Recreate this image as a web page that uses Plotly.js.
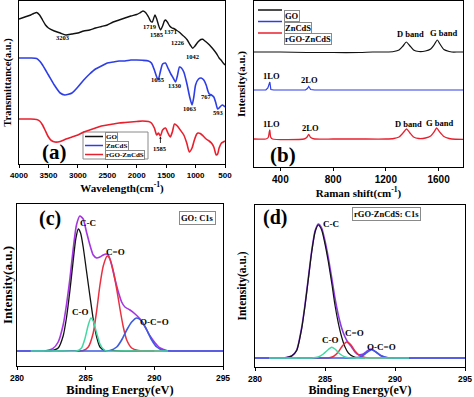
<!DOCTYPE html>
<html><head><meta charset="utf-8">
<script src="https://cdn.plot.ly/plotly-3.0.1.min.js"></script>
<style>html,body{margin:0;padding:0;background:#fff}#chart{width:474px;height:397px}</style>
</head><body><div id="chart"></div>
<script>
// ---------- (a) FTIR ----------
const ftirGO_x = [4000,3900,3800,3750,3700,3650,3600,3550,3500,3400,3300,3203,3100,3000,2900,2800,2700,2600,2500,2400,2300,2200,2100,2000,1950,1894,1850,1800,1760,1735,1710,1690,1660,1625,1594,1560,1530,1510,1480,1440,1400,1371,1330,1280,1226,1190,1140,1090,1048,1010,960,910,878,840,790,737,690,640,600,568,530,500];
const ftirGO_y = [145,147,149,150.5,151.5,149,144,139,136,133,131,129,130,131,133,134,136,137.5,139,142,144,146,148,149.5,151,153,151.5,147,142.5,142,146,149,145,138,134,138,143,144,142,138,136,135.5,134,132,129,127.3,124,119,115.7,118,122,124.5,124.7,123,120.5,117.3,114,110,106,104,101,99];
const ftirZn_x = [4000,3900,3800,3700,3650,3600,3500,3400,3300,3221,3100,3000,2900,2800,2700,2600,2500,2400,2300,2200,2100,2000,1900,1800,1750,1700,1660,1635,1600,1560,1511,1470,1420,1380,1340,1310,1273,1240,1200,1150,1100,1060,1030,1000,950,905,860,820,790,767,730,690,660,625,600,570,540,500];
const ftirZn_y = [106,106,106,105.5,103,99,89,79,71,69,71,77,84,90,95,98,101,102,103,103,104,104,103.7,103,101,94,87,84,92,100,101,96,90,86,82,88,97,96,92,81,67,59,67,79,85,86,84,79,73,70,69,67,62,55,56,58,59,57];
const ftirRG_x = [4000,3900,3800,3700,3650,3600,3550,3500,3450,3390,3300,3200,3100,3000,2900,2800,2700,2600,2500,2400,2300,2200,2100,2000,1900,1800,1750,1700,1660,1630,1597,1560,1510,1470,1430,1395,1358,1310,1260,1200,1150,1106,1060,1020,980,960,920,870,820,770,730,690,650,625,600,560,530,500];
const ftirRG_y = [45,45,45,44.5,43,39,33,27,23.5,22,22.5,25,27,29,32,34,36,38,39,40,41,41.5,42,42.5,43,42.5,41,36,29,31,28,34,36,31,27,32,40,38,34,29,21,12,16,24,30,31,30.5,28,25,23,21,17,9,10,16,21,22,23];
const ftirPeakLabels = ['3203','1719','1585','1371','1226','1042','1635','1330','1063','767','593'];
const ftirPeakX = [3250,1774,1655,1434,1298,1044,1638,1366,1095,806,619];
const ftirPeakY = [126,137,129,132,121,107,84,78,55,67,51];

// ---------- (b) Raman ----------
const ramGO_x = [200,400,600,800,1000,1100,1200,1260,1300,1330,1355,1380,1410,1450,1500,1540,1565,1590,1610,1640,1680,1700,1750,1800];
const ramGO_y = [115,115,114.5,114.5,114.5,115,115,115.5,117,121,125,121.5,117,115.5,116,118,122,127,123,117.5,115.5,115,115,115];
const ramZn_x = [200,290,305,315,320,328,350,590,605,615,630,660,800,1000,1200,1400,1600,1800];
const ramZn_y = [77,77,79,84,85,77.5,77,77,78.5,80.5,77.5,77,77,77,77,77,77,77];
const ramRG_x = [200,290,308,316,320,326,340,580,600,615,630,660,800,1000,1200,1260,1300,1330,1357,1380,1410,1450,1500,1540,1565,1585,1605,1640,1680,1700,1800];
const ramRG_y = [28,28,29.5,35,37,30,28,28,29.5,32.5,29.5,28,28,28,28,28.5,30,34,38,34.5,30,28.5,29,31,35,39,35.5,30.5,28.5,28,27.5];
const ramLabels = ['D band','G band','1LO','2LO','1LO','2LO','D band','G band'];
const ramLabX = [1385,1635,330,620,330,625,1370,1610];
const ramLabY = [133,134,91,87,43,39,43,44];

// ---------- (c) XPS GO C1s ----------
const goEnv_x = [280,281.2,282.1,282.6,283.0,283.36,283.6,283.85,284.09,284.33,284.58,284.82,285.06,285.31,285.55,285.8,286.04,286.28,286.48,286.65,286.89,287.13,287.38,287.62,287.86,288.23,288.6,288.96,289.33,289.69,290.06,290.42,290.9,291.4,293,295];
const goEnv_y = [0,0,0.3,2.3,9,26,46,72,102,126,135,132,119,106,96,93,94,96,97,96,86,72,59,49,44,41,37,32,24,15,8,3,0.5,0,0,0];
const goCC_x = [282.0,282.39,283.0,283.36,283.6,283.85,284.09,284.28,284.46,284.63,284.82,285.06,285.31,285.55,285.8,286.04,286.4,287,290];
const goCC_y = [0,0,3,15,33,60,90,112,122,118,104,80,55,32,14,4,0.5,0,0];
const goCeqO_x = [283,284.3,284.82,285.19,285.55,285.8,286.04,286.28,286.57,286.77,287.01,287.26,287.5,287.74,287.99,288.35,288.84,289.2,291];
const goCeqO_y = [0,0,0.5,4,18,40,66,85,95,92,80,62,42,24,11,3,0.5,0,0];
const goCO_x = [281,283,284.33,284.7,284.94,285.19,285.38,285.55,285.8,286.04,286.28,286.53,288,291];
const goCO_y = [0,0,0,3,12,26,33,30,18,7,2,0,0,0];
const goOCO_x = [280,283,286,286.77,287.26,287.62,287.99,288.35,288.72,289.08,289.45,289.81,290.18,290.66,292,295];
const goOCO_y = [0,0,0,0.5,4,11,21,29,33,30,21,11,4,0.5,0,0];

// ---------- (d) XPS rGO-ZnCdS C1s ----------
const rgEnv_x = [280,282.14,282.62,282.98,283.33,283.57,283.81,284.05,284.29,284.52,284.76,285.0,285.24,285.48,285.71,285.95,286.19,286.43,286.67,286.9,287.14,287.38,287.74,287.98,288.29,288.57,288.93,289.29,289.76,292,295];
const rgEnv_y = [0,0.3,2,8,30,53,80,107,127,134,130,117,100,80,60,43,30,21,15,11,6,3.3,4,6.7,9,6.7,2.7,0.7,0,0,0];
const rgCC_x = [282.14,282.62,282.98,283.33,283.57,283.81,284.05,284.29,284.52,284.76,285.0,285.24,285.48,285.71,285.95,286.19,286.43,286.67,287.02,287.38,287.86];
const rgCC_y = [0,2,7.5,29,52,79,106,126,133,128,114,96,75,53,35,21,11,5,1.5,0.3,0];
const rgCO_x = [281,283,284.05,284.52,284.88,285.24,285.48,285.71,286.07,286.43,286.79,288,291];
const rgCO_y = [0,0,0,1,4,8.5,10.7,9,4,1,0,0,0];
const rgCeqO_x = [283,284.5,285.24,285.6,285.95,286.24,286.55,286.86,287.14,287.43,287.86,288.21,290];
const rgCeqO_y = [0,0,0,1.5,6,12,16,13,7,3,0.5,0,0];
const rgOCO_x = [280,284,286,287.14,287.5,287.86,288.33,288.69,289.05,289.4,289.76,292,295];
const rgOCO_y = [0,0,0,0,1,4,8.3,5.5,2,0.5,0,0,0];
const xpsLabels = ['C-C','C=O','C-O','O-C=O'];
const goLabX = [285.15,287.15,284.65,290.0];
const goLabY = [128,99,39,29];
const rgLabX = [285.45,287.1,285.4,289.0];
const rgLabY = [134,25,18,11];

const series = ['GO','ZnCdS','rGO-ZnCdS'];
const cBlack = '#111111', cBlue = '#2d3ee6', cRed = '#e8202e';
const cPurple = '#a535e2', cPurple2 = '#8a3ae6', cGreen = '#43d8a2', cCompBlue = '#3d5be0', cCompRed = '#ea3040';

const serif = 'Liberation Serif, Times New Roman, serif';
const sans = 'Liberation Sans, Arial, sans-serif';

function ln(x, y, color, xa, ya, name, w, shape) {
  return {x: x, y: y, type: 'scatter', mode: 'lines', name: name, showlegend: false,
    xaxis: xa, yaxis: ya, line: {color: color, width: w || 1.4, shape: shape || 'spline', smoothing: 0.6}};
}

const data = [
  ln(ftirGO_x, ftirGO_y, cBlack, 'x', 'y', series[0], 1.4),
  ln(ftirZn_x, ftirZn_y, cBlue, 'x', 'y', series[1], 1.6),
  ln(ftirRG_x, ftirRG_y, cRed, 'x', 'y', series[2], 1.6),
  ln(ramGO_x, ramGO_y, cBlack, 'x2', 'y2', series[0], 1.2),
  ln(ramZn_x, ramZn_y, cBlue, 'x2', 'y2', series[1], 1.2, 'linear'),
  ln(ramRG_x, ramRG_y, cRed, 'x2', 'y2', series[2], 1.3),
  ln(goEnv_x, goEnv_y, cPurple, 'x3', 'y3', 'Envelope', 1.6),
  ln(goCC_x, goCC_y, cBlack, 'x3', 'y3', 'C-C', 1.3),
  ln(goCeqO_x, goCeqO_y, cCompRed, 'x3', 'y3', 'C=O', 1.5),
  ln(goOCO_x, goOCO_y, cCompBlue, 'x3', 'y3', 'O-C=O', 1.6),
  ln(goCO_x, goCO_y, cGreen, 'x3', 'y3', 'C-O', 1.5),
  ln(rgEnv_x, rgEnv_y, cPurple2, 'x4', 'y4', 'Envelope', 1.6),
  ln(rgCC_x, rgCC_y, cBlack, 'x4', 'y4', 'C-C', 1.2),
  ln(rgCeqO_x, rgCeqO_y, cCompRed, 'x4', 'y4', 'C=O', 1.5),
  ln(rgOCO_x, rgOCO_y, cCompBlue, 'x4', 'y4', 'O-C=O', 1.6),
  ln(rgCO_x, rgCO_y, cGreen, 'x4', 'y4', 'C-O', 1.5)
];

function px(v){return v/474;}
function py(v){return 1 - v/397;}

function xax(dom, anchor, range, dtick, tsize, title, tfs, standoff, tickvals) {
  const a = {domain: dom, anchor: anchor, range: range, showgrid: false, zeroline: false,
    showline: true, linecolor: '#000', linewidth: 1.4, mirror: true,
    ticks: 'outside', ticklen: 3, tickwidth: 1, tickcolor: '#000',
    tickfont: {family: sans, size: tsize, color: '#000', weight: 'bold'},
    title: {text: title, font: {family: serif, size: tfs, color: '#000', weight: 'bold'}, standoff: standoff}};
  if (tickvals) { a.tickmode = 'array'; a.tickvals = tickvals; } else { a.dtick = dtick; a.tick0 = 0; }
  return a;
}
function yax(dom, anchor, range, title, tfs, standoff) {
  return {domain: dom, anchor: anchor, range: range, showgrid: false, zeroline: false,
    showline: true, linecolor: '#000', linewidth: 1.4, mirror: true, ticks: '', showticklabels: false,
    title: {text: title, font: {family: serif, size: tfs, color: '#000', weight: 'bold'}, standoff: standoff}};
}

const ann = [];
function txt(x, y, t, xr, yr, size, extra) {
  ann.push(Object.assign({x: x, y: y, xref: xr, yref: yr, text: t, showarrow: false,
    font: {family: serif, size: size, color: '#000', weight: 'bold'}}, extra || {}));
}
for (let i = 0; i < ftirPeakLabels.length; i++) txt(ftirPeakX[i], ftirPeakY[i], ftirPeakLabels[i], 'x', 'y', 6.5);
ann.push({x: 1597, y: 27, xref: 'x', yref: 'y', text: '1585', showarrow: true, ax: 0, ay: 11,
  arrowhead: 1, arrowsize: 0.6, arrowwidth: 0.8, arrowcolor: '#000', standoff: 0,
  font: {family: serif, size: 6.5, color: '#000', weight: 'bold'}});
for (let i = 0; i < ramLabels.length; i++) txt(ramLabX[i], ramLabY[i], ramLabels[i], 'x2', 'y2', 8.5);
for (let i = 0; i < xpsLabels.length; i++) txt(goLabX[i], goLabY[i], xpsLabels[i], 'x3', 'y3', 9);
for (let i = 0; i < xpsLabels.length; i++) txt(rgLabX[i], rgLabY[i], xpsLabels[i], 'x4', 'y4', 9);
txt(px(40), py(152), '(a)', 'paper', 'paper', 21);
txt(px(283), py(155), '(b)', 'paper', 'paper', 21);
txt(px(37), py(218), '(c)', 'paper', 'paper', 20);
txt(px(275), py(217), '(d)', 'paper', 'paper', 20);
const boxStyle = {bordercolor: '#8a8a8a', borderwidth: 1, borderpad: 1, bgcolor: '#fff'};
txt(px(197), py(218), 'GO: C1s', 'paper', 'paper', 8.5, boxStyle);
txt(px(421), py(214), 'rGO-ZnCdS: C1s', 'paper', 'paper', 8.5, boxStyle);

// manual legends
const shapes = [];
shapes.push({type: 'rect', xref: 'paper', yref: 'paper', x0: px(83), x1: px(148), y0: py(159), y1: py(132),
  line: {color: '#8a8a8a', width: 1}, fillcolor: '#fff', layer: 'below'});
const legColors = [cBlack, cBlue, cRed];
const legA_y = [136.5, 145.5, 154.5];
const legB_y = [10, 21.5, 33];
for (let i = 0; i < 3; i++) {
  shapes.push({type: 'line', xref: 'paper', yref: 'paper', x0: px(85), x1: px(103), y0: py(legA_y[i]), y1: py(legA_y[i]),
    line: {color: legColors[i], width: 1.5}});
  txt(px(105), py(legA_y[i]), series[i], 'paper', 'paper', 7, Object.assign({xanchor: 'left'}, boxStyle, {borderpad: 0}));
  shapes.push({type: 'line', xref: 'paper', yref: 'paper', x0: px(258), x1: px(282), y0: py(legB_y[i]), y1: py(legB_y[i]),
    line: {color: legColors[i], width: 1.5}});
  txt(px(284), py(legB_y[i]), series[i], 'paper', 'paper', 8.5, Object.assign({xanchor: 'left'}, boxStyle, {borderpad: 0}));
}

const layout = {
  width: 474, height: 397, margin: {l: 0, r: 0, t: 0, b: 0}, paper_bgcolor: '#fff', plot_bgcolor: '#fff',
  showlegend: false, hovermode: false,
  xaxis: xax([px(19), px(225)], 'y', [4000, 500], 500, 8, 'Wavelength(cm<sup>-1</sup>)', 11, 2),
  yaxis: yax([py(164), py(1)], 'x', [0, 163], 'Transmittance(a.u.)', 10.5, 4),
  xaxis2: xax([px(254), px(463)], 'y2', [200, 1785], 400, 10, 'Raman shift(cm<sup>-1</sup>)', 11, 2, [400, 800, 1200, 1600]),
  yaxis2: yax([py(167), py(1)], 'x2', [0, 166], 'Intensity(a.u.)', 11, 4),
  xaxis3: xax([px(17), px(223)], 'y3', [280, 295], 5, 8.5, 'Binding Energy(eV)', 12.5, 2),
  yaxis3: yax([py(366), py(204)], 'x3', [-15, 147], 'Intensity(a.u.)', 13, 4),
  xaxis4: xax([px(255), px(465)], 'y4', [280, 295], 5, 8.5, 'Binding Energy(eV)', 12, 3.5),
  yaxis4: yax([py(367), py(205)], 'x4', [-9, 153], 'Intensity(a.u.)', 11.5, 4),
  annotations: ann, shapes: shapes
};
Plotly.newPlot('chart', data, layout, {displayModeBar: false, staticPlot: true});
</script></body></html>
